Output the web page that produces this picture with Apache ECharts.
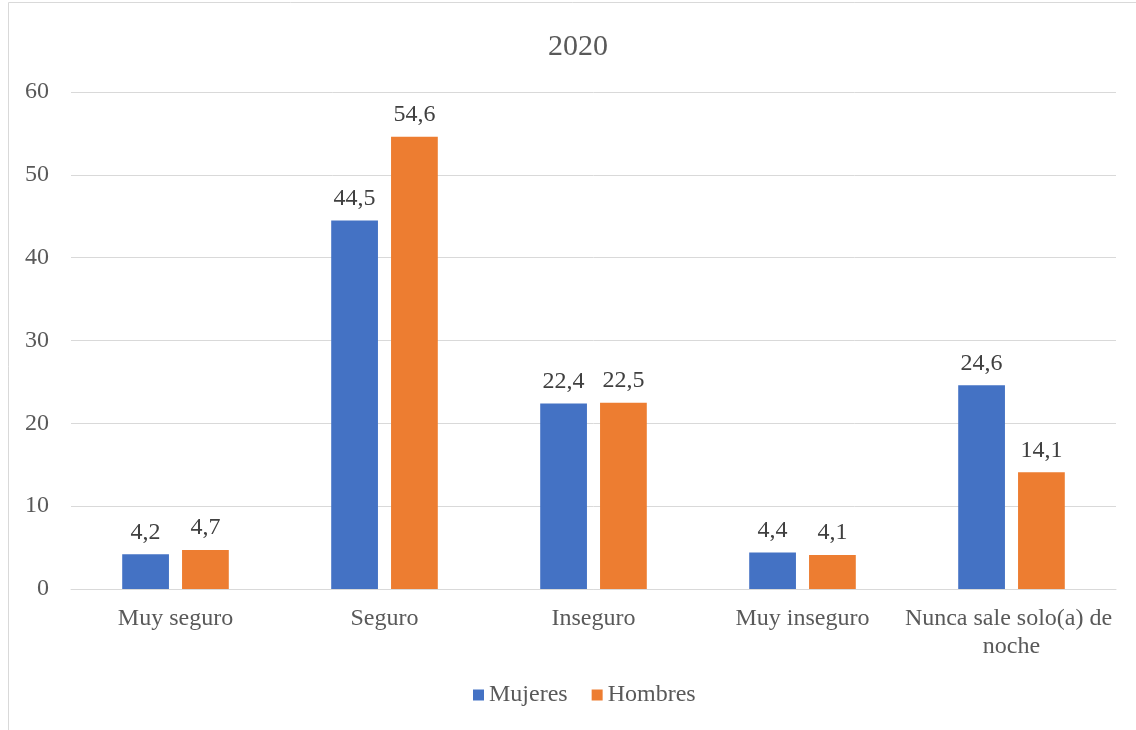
<!DOCTYPE html>
<html><head><meta charset="utf-8">
<script src="https://cdn.jsdelivr.net/npm/echarts@6/dist/echarts.min.js"></script>
<style>html,body{margin:0;padding:0;background:#fff}#c{width:1136px;height:730px}</style>
</head><body><div id="c"></div>
<script>
const categories = ["Muy seguro", "Seguro", "Inseguro", "Muy inseguro", "Nunca sale solo(a) de noche"];
const mujeres = [4.2, 44.5, 22.4, 4.4, 24.6];
const hombres = [4.7, 54.6, 22.5, 4.1, 14.1];
const seriesNames = ["Mujeres", "Hombres"];
const titleText = "2020";

const font = "'Liberation Serif', 'Times New Roman', serif";
const chart = echarts.init(document.getElementById('c'), null, {renderer: 'canvas'});
const lbl = {show: true, position: 'top', distance: 10, color: '#404040', fontFamily: font, fontSize: 24,
  formatter: p => String(p.value).replace('.', ',')};
chart.setOption({
  animation: false,
  graphic: [{type: 'rect', shape: {x: 8.5, y: 2.5, width: 1200, height: 800}, style: {fill: 'none', stroke: '#d9d9d9', lineWidth: 1}}],
  title: {text: titleText, left: 543, top: 27, textStyle: {fontFamily: font, fontSize: 30, fontWeight: 'normal', color: '#595959'}},
  legend: {bottom: 18, left: 468, itemWidth: 11, itemHeight: 11, itemGap: 24, icon: 'rect',
    textStyle: {fontFamily: font, fontSize: 24, color: '#595959'}},
  grid: {left: 71, right: 20, top: 92, bottom: 141, containLabel: false},
  xAxis: {type: 'category', data: categories,
    axisLine: {lineStyle: {color: '#d9d9d9'}}, axisTick: {show: false},
    axisLabel: {fontFamily: font, fontSize: 24, color: '#595959', margin: 16, width: 215, overflow: 'break', lineHeight: 28, interval: 0}},
  yAxis: {type: 'value', min: 0, max: 60, interval: 10,
    axisLine: {show: false}, axisTick: {show: false},
    splitLine: {lineStyle: {color: '#d9d9d9'}},
    axisLabel: {fontFamily: font, fontSize: 24, color: '#595959', margin: 22}},
  series: [
    {name: seriesNames[0], type: 'bar', data: mujeres, itemStyle: {color: '#4472C4'}, barGap: '28%', barCategoryGap: '49%', label: lbl},
    {name: seriesNames[1], type: 'bar', data: hombres, itemStyle: {color: '#ED7D31'}, label: lbl}
  ]
});
</script></body></html>
